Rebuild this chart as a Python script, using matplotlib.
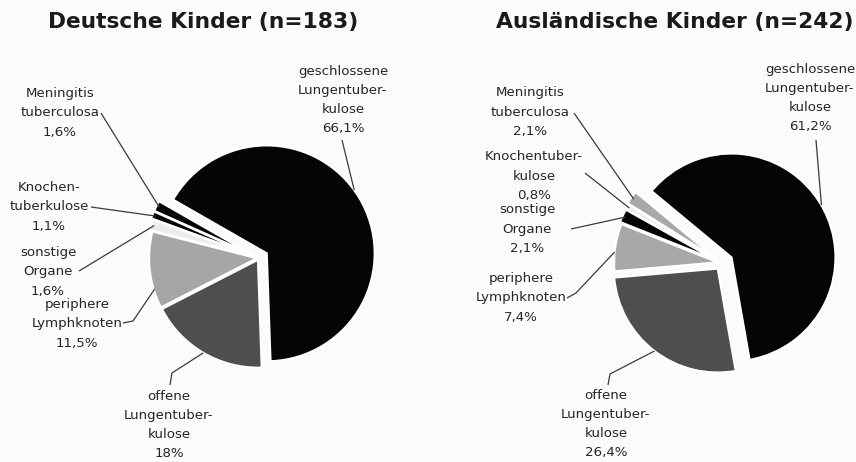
import matplotlib
matplotlib.use("Agg")
import matplotlib.pyplot as plt
import numpy as np

# ---------------- data ----------------
titles = ["Deutsche Kinder (n=183)", "Ausländische Kinder (n=242)"]
categories = ["geschlossene Lungentuberkulose", "Meningitis tuberculosa",
              "Knochentuberkulose", "sonstige Organe",
              "periphere Lymphknoten", "offene Lungentuberkulose"]
values_de = [66.1, 1.6, 1.1, 1.6, 11.5, 18.0]
values_aus = [61.2, 2.1, 0.8, 2.1, 7.4, 26.4]
pct_de = ["66,1%", "1,6%", "1,1%", "1,6%", "11,5%", "18%"]
pct_aus = ["61,2%", "2,1%", "0,8%", "2,1%", "7,4%", "26,4%"]
names_de = ["geschlossene\nLungentuber-\nkulose", "Meningitis\ntuberculosa",
            "Knochen-\ntuberkulose", "sonstige\nOrgane",
            "periphere\nLymphknoten", "offene\nLungentuber-\nkulose"]
names_aus = ["geschlossene\nLungentuber-\nkulose", "Meningitis\ntuberculosa",
             "Knochentuber-\nkulose", "sonstige\nOrgane",
             "periphere\nLymphknoten", "offene\nLungentuber-\nkulose"]

# ---------------- style ----------------
W, H = 856, 462
BG = "#fbfbfb"
col_de = ["#050505", "#050505", "#050505", "#ececec", "#a6a6a6", "#4e4e4e"]
col_aus = ["#050505", "#a8a8a8", "#ececec", "#050505", "#a8a8a8", "#4e4e4e"]
# explode offsets in pixels
explode_de = [9, 7, 7, 5, 2, 2]
explode_aus = [11, 8, 7, 6, 4, 7]

fig = plt.figure(figsize=(W / 100, H / 100), dpi=100, facecolor=BG)
ax = fig.add_axes([0, 0, 1, 1])
ax.set_facecolor(BG)

def Y(y):
    return H - y

label_font = dict(family=["DejaVu Sans"], fontsize=9.6, color="#262626",
                  ha="center", va="center", linespacing=1.62)

def draw_pie(values, colors, explode, center, radius, startangle):
    wedges, _ = ax.pie(values, colors=colors, explode=explode, startangle=startangle,
                       counterclock=True, center=center, radius=radius,
                       wedgeprops=dict(edgecolor="white", linewidth=1.6))
    return wedges

def wedge_point(w, frac=0.5, rfac=1.0):
    a = np.deg2rad(w.theta1 + frac * (w.theta2 - w.theta1))
    cx, cy = w.center
    return cx + rfac * w.r * np.cos(a), cy + rfac * w.r * np.sin(a)

wl = draw_pie(values_de, col_de, explode_de, (259, Y(258)), 108, -88)
wr = draw_pie(values_aus, col_aus, explode_aus, (722, Y(263)), 104, -80)

ax.set_xlim(0, W)
ax.set_ylim(0, H)
ax.set_aspect("equal")
ax.axis("off")

# titles
title_font = dict(fontsize=15.7, fontweight="bold", color="#1a1a1a",
                  ha="center", va="center", family="DejaVu Sans")
ax.text(203, Y(22), titles[0], **title_font)
ax.text(675, Y(22), titles[1], **title_font)

lc = "#3a3a3a"
lw = 0.9

def label(text, pos, anchor, wedge, frac=0.5, rfac=0.98, elbow=None):
    ax.text(pos[0], Y(pos[1]), text, **label_font)
    px, py = wedge_point(wedge, frac, rfac)
    xs = [anchor[0]]
    ys = [Y(anchor[1])]
    if elbow is not None:
        xs.append(elbow[0]); ys.append(Y(elbow[1]))
    xs.append(px); ys.append(py)
    ax.plot(xs, ys, color=lc, lw=lw, solid_capstyle="butt")

# left labels
label(names_de[0] + "\n" + pct_de[0], (343, 100), (342, 140), wl[0], 0.52, 1.0)
label(names_de[1] + "\n" + pct_de[1], (60, 113), (101, 113), wl[1], 0.5, 0.97)
label(names_de[2] + "\n" + pct_de[2], (49, 207), (91, 207), wl[2], 0.5, 0.97)
label(names_de[3] + "\n" + pct_de[3], (48, 272), (79, 271), wl[3], 0.5, 0.97)
label(names_de[4] + "\n" + pct_de[4], (77, 324), (123, 323), wl[4], 0.75, 0.99, elbow=(133, 321))
label(names_de[5] + "\n" + pct_de[5], (169, 425), (170, 385), wl[5], 0.5, 1.0, elbow=(172, 373))

# right labels
label(names_aus[0] + "\n" + pct_aus[0], (810, 98), (816, 140), wr[0], 0.5, 1.0)
label(names_aus[1] + "\n" + pct_aus[1], (530, 112), (574, 113), wr[1], 0.5, 0.97)
label(names_aus[2] + "\n" + pct_aus[2], (534, 176), (585, 173), wr[2], 0.5, 0.97)
label(names_aus[3] + "\n" + pct_aus[3], (527, 229), (571, 229), wr[3], 0.5, 0.97)
label(names_aus[4] + "\n" + pct_aus[4], (521, 298), (567, 298), wr[4], 0.6, 1.0, elbow=(576, 293))
label(names_aus[5] + "\n" + pct_aus[5], (606, 424), (608, 385), wr[5], 0.5, 1.0, elbow=(610, 374))

fig.savefig("out.png", dpi=100, facecolor=BG)
